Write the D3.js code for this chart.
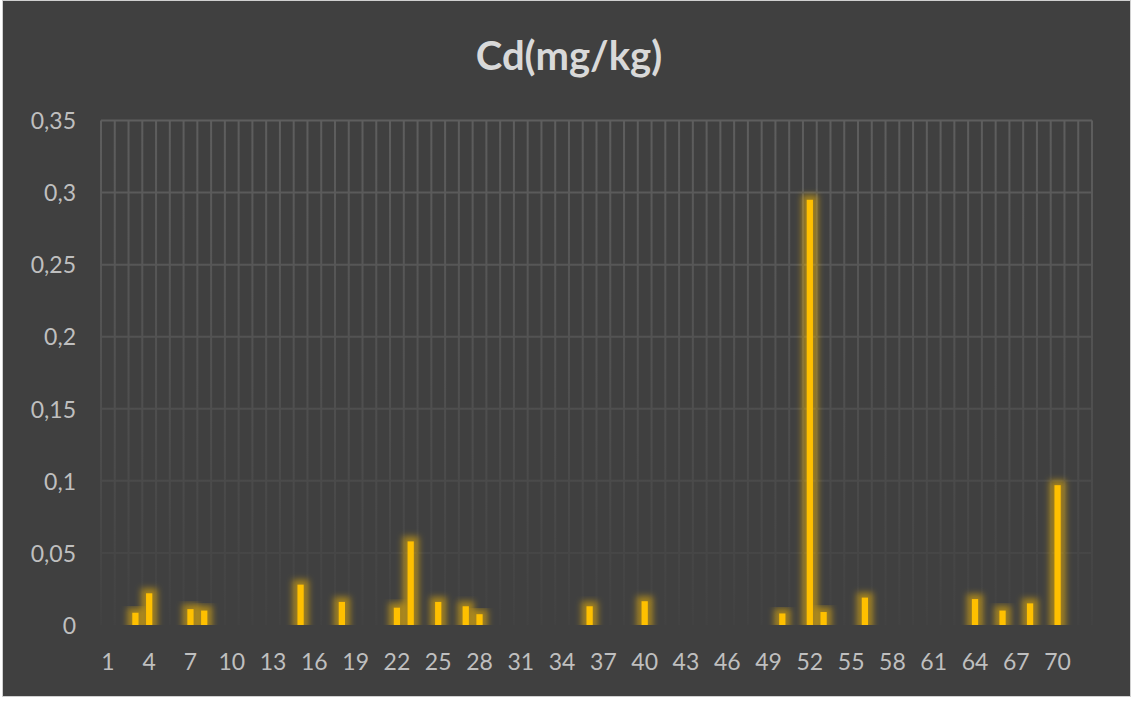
<!DOCTYPE html>
<html>
<head>
<meta charset="utf-8">
<script src="https://cdn.jsdelivr.net/npm/d3@7"></script>
<style>
  html, body { margin: 0; padding: 0; background: #ffffff; }
  svg { display: block; }
</style>
</head>
<body>
<svg id="chart" width="1134" height="702"></svg>
<script>
// sample numbers 1..72 on the category axis
const categories = [
    1, 2, 3, 4, 5, 6, 7, 8, 9, 10,
    11, 12, 13, 14, 15, 16, 17, 18, 19, 20,
    21, 22, 23, 24, 25, 26, 27, 28, 29, 30,
    31, 32, 33, 34, 35, 36, 37, 38, 39, 40,
    41, 42, 43, 44, 45, 46, 47, 48, 49, 50,
    51, 52, 53, 54, 55, 56, 57, 58, 59, 60,
    61, 62, 63, 64, 65, 66, 67, 68, 69, 70,
    71, 72
];

// Cd values (0 = no bar)
const cdValues = [
    0, 0, 0.0085, 0.022, 0, 0, 0.011, 0.01, 0, 0,
    0, 0, 0, 0, 0.028, 0, 0, 0.016, 0, 0,
    0, 0.012, 0.058, 0, 0.016, 0, 0.013, 0.0075, 0, 0,
    0, 0, 0, 0, 0, 0.013, 0, 0, 0, 0.0165,
    0, 0, 0, 0, 0, 0, 0, 0, 0, 0.008,
    0, 0.295, 0.009, 0, 0, 0.019, 0, 0, 0, 0,
    0, 0, 0, 0.018, 0, 0.01, 0, 0.015, 0, 0.097,
    0, 0
];

const xTickLabels = [1, 4, 7, 10, 13, 16, 19, 22, 25, 28, 31, 34, 37, 40, 43, 46, 49, 52, 55, 58, 61, 64, 67, 70];
const yTicks = [0, 0.05, 0.1, 0.15, 0.2, 0.25, 0.3, 0.35];

const chartTitle = 'Cd(mg/kg)';

class CdChart {
    constructor() {
        this.WIDTH = 1134;
        this.HEIGHT = 702;
        this.PLOT = {left: 101, right: 1092, top: 120.5, bottom: 625};

        this.data = categories.map((c, i) => ({cat: c, value: cdValues[i]}));

        // gridlines sit on category boundaries, bars centred in each slot
        this.xScale = d3.scaleBand()
            .domain(categories)
            .range([this.PLOT.left, this.PLOT.right])
            .padding(0);

        this.yScale = d3.scaleLinear()
            .domain([0, 0.35])
            .range([this.PLOT.bottom, this.PLOT.top]);

        this.svg = d3.select('#chart');
        this.drawChart();
    }

    drawChart() {
        this.drawBackground();
        this.drawGrid();
        this.drawBars();
        this.drawAxis();
        this.drawTitle();
    }

    drawBackground() {
        this.svg.append('rect')
            .attr('x', 2.5).attr('y', 0.5)
            .attr('width', 1128).attr('height', 696)
            .attr('fill', '#404040')
            .attr('stroke', '#d0d0d0')
            .attr('stroke-width', 1);
    }

    drawGrid() {
        let defs = this.svg.append('defs');

        // gridlines fade out toward the bottom
        let grad = defs.append('linearGradient')
            .attr('id', 'gridFade')
            .attr('gradientUnits', 'userSpaceOnUse')
            .attr('x1', 0).attr('x2', 0)
            .attr('y1', this.PLOT.top).attr('y2', this.PLOT.bottom);
        grad.append('stop').attr('offset', '0%').attr('stop-color', '#5e5e5e');
        grad.append('stop').attr('offset', '50%').attr('stop-color', '#515151');
        grad.append('stop').attr('offset', '100%').attr('stop-color', '#424242');

        let grid = this.svg.append('g').attr('class', 'grid');

        let step = this.xScale.step();
        let bounds = categories.map(c => this.xScale(c)).concat([this.xScale(categories[categories.length - 1]) + step]);

        grid.selectAll('line.v')
            .data(bounds)
            .join('line')
            .attr('class', 'v')
            .attr('x1', d => d).attr('x2', d => d)
            .attr('y1', this.PLOT.top).attr('y2', this.PLOT.bottom)
            .attr('stroke', 'url(#gridFade)')
            .attr('stroke-width', 2);

        grid.selectAll('line.h')
            .data(yTicks.filter(d => d > 0))
            .join('line')
            .attr('class', 'h')
            .attr('x1', this.PLOT.left).attr('x2', this.PLOT.right)
            .attr('y1', d => this.yScale(d)).attr('y2', d => this.yScale(d))
            .attr('stroke', 'url(#gridFade)')
            .attr('stroke-width', 2);

        // glow filter for the bars
        let f = defs.append('filter')
            .attr('id', 'glow')
            .attr('x', '-300%').attr('y', '-50%')
            .attr('width', '700%').attr('height', '200%');
        f.append('feMorphology').attr('in', 'SourceAlpha').attr('operator', 'dilate').attr('radius', 5).attr('result', 'fat');
        f.append('feGaussianBlur').attr('in', 'fat').attr('stdDeviation', 3).attr('result', 'blur');
        f.append('feFlood').attr('flood-color', '#ffc000').attr('flood-opacity', 0.5).attr('result', 'col');
        f.append('feComposite').attr('in', 'col').attr('in2', 'blur').attr('operator', 'in').attr('result', 'halo');
        let merge = f.append('feMerge');
        merge.append('feMergeNode').attr('in', 'halo');
        merge.append('feMergeNode').attr('in', 'SourceGraphic');

        defs.append('clipPath').attr('id', 'plotClip')
            .append('rect')
            .attr('x', 0).attr('y', 0)
            .attr('width', this.WIDTH).attr('height', this.PLOT.bottom);
    }

    drawBars() {
        let step = this.xScale.step();
        let barW = step / 2.2;

        this.svg.append('g')
            .attr('clip-path', 'url(#plotClip)')
            .selectAll('rect')
            .data(this.data.filter(d => d.value > 0))
            .join('rect')
            .attr('x', d => this.xScale(d.cat) + (step - barW) / 2)
            .attr('y', d => this.yScale(d.value))
            .attr('width', barW)
            .attr('height', d => this.yScale(0) - this.yScale(d.value))
            .attr('fill', '#ffc000')
            .attr('filter', 'url(#glow)');
    }

    drawAxis() {
        let fmt = d3.formatLocale({decimal: ',', thousands: '.', grouping: [3], currency: ['', '']}).format('.2~f');

        let yAxis = d3.axisLeft(this.yScale)
            .tickValues(yTicks)
            .tickSize(0)
            .tickPadding(25)
            .tickFormat(fmt);

        let yg = this.svg.append('g')
            .attr('transform', `translate(${this.PLOT.left}, 0)`)
            .call(yAxis);
        yg.select('.domain').remove();
        yg.selectAll('.tick text')
            .attr('fill', '#bfbfbf')
            .attr('font-family', 'Lato, "Open Sans", sans-serif')
            .attr('font-size', 23)
            .attr('dy', '0.36em');

        let xAxis = d3.axisBottom(this.xScale)
            .tickValues(xTickLabels)
            .tickSize(0)
            .tickPadding(0);

        let xg = this.svg.append('g')
            .attr('transform', `translate(0, ${this.PLOT.bottom})`)
            .call(xAxis);
        xg.select('.domain').remove();
        xg.selectAll('.tick text')
            .attr('fill', '#bfbfbf')
            .attr('font-family', 'Lato, "Open Sans", sans-serif')
            .attr('font-size', 23)
            .attr('y', 37)
            .attr('dy', '0.36em');
    }

    drawTitle() {
        this.svg.append('text')
            .text(chartTitle)
            .attr('x', 569)
            .attr('y', 70)
            .attr('text-anchor', 'middle')
            .attr('fill', '#d9d9d9')
            .attr('font-family', 'Lato, "Open Sans", sans-serif')
            .attr('font-weight', 'bold')
            .attr('font-size', 40);
    }
}

new CdChart();
</script>
</body>
</html>
